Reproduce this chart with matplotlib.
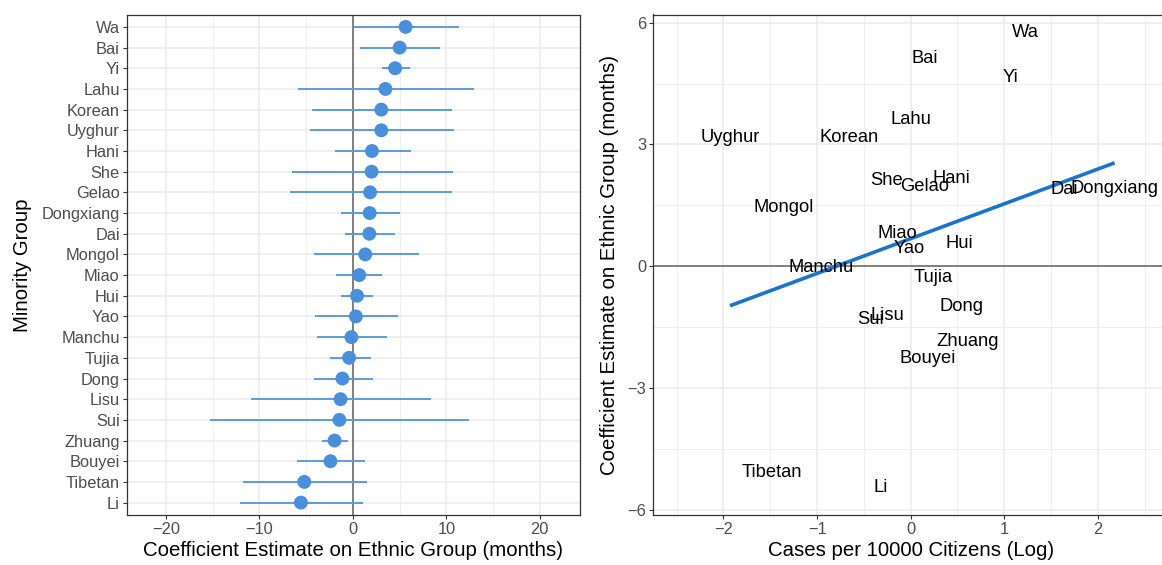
import numpy as np
import matplotlib
matplotlib.use("Agg")
import matplotlib.pyplot as plt
from matplotlib.ticker import MultipleLocator
from matplotlib.transforms import offset_copy

plt.rcParams['font.family'] = ['Liberation Sans', 'DejaVu Sans']

# data, ordered top to bottom as in the left panel
groups = ["Wa", "Bai", "Yi", "Lahu", "Korean", "Uyghur", "Hani", "She", "Gelao",
          "Dongxiang", "Dai", "Mongol", "Miao", "Hui", "Yao", "Manchu", "Tujia",
          "Dong", "Lisu", "Sui", "Zhuang", "Bouyei", "Tibetan", "Li"]
estimate = [5.64, 5.0, 4.52, 3.48, 3.04, 3.04, 2.04, 2.0, 1.84,
            1.8, 1.76, 1.32, 0.68, 0.44, 0.32, -0.16, -0.4,
            -1.12, -1.32, -1.44, -1.96, -2.4, -5.2, -5.56]
ci_low = [0.1, 0.76, 3.16, -5.92, -4.36, -4.6, -1.96, -6.56, -6.76,
          -1.28, -0.88, -4.2, -1.76, -1.28, -4.0, -3.8, -2.48,
          -4.2, -10.88, -15.24, -3.28, -5.96, -11.76, -12.04]
ci_high = [11.4, 9.36, 6.12, 13.0, 10.56, 10.8, 6.24, 10.72, 10.64,
           5.0, 4.52, 7.04, 3.08, 2.2, 4.8, 3.64, 1.92,
           2.12, 8.32, 12.44, -0.48, 1.32, 1.48, 1.04]
# log cases per 10000 citizens
log_cases = [1.23, 0.15, 1.07, 0.0, -0.66, -1.93, 0.43, -0.26, 0.15,
             2.18, 1.64, -1.36, -0.14, 0.52, -0.02, -0.96, 0.24,
             0.54, -0.25, -0.43, 0.61, 0.18, -1.48, -0.32]

W, H = 1162, 565
fig = plt.figure(figsize=(W / 100, H / 100), dpi=100)

def px_axes(x0, x1, y0, y1):
    return fig.add_axes([x0 / W, 1 - y1 / H, (x1 - x0) / W, (y1 - y0) / H])

grid_col = "#EBEBEB"
border_col = "#333333"
tick_col = "#4D4D4D"

def style(ax):
    for s in ax.spines.values():
        s.set_color(border_col)
        s.set_linewidth(0.9)
    ax.tick_params(axis="both", which="major", length=3, width=0.8, color=border_col,
                   labelcolor=tick_col, labelsize=11.8, pad=2)
    ax.tick_params(axis="both", which="minor", length=0)
    ax.grid(True, which="major", color=grid_col, linewidth=1.1)
    ax.grid(True, which="minor", color=grid_col, linewidth=0.55)
    ax.set_axisbelow(True)

# ---- left panel: coefficient plot
ax1 = px_axes(126.7, 580, 14.5, 515)
style(ax1)
ypos = np.arange(len(groups), 0, -1)
ax1.axvline(0, color="#7F7F7F", linewidth=1.4, zorder=1)
ax1.hlines(ypos, ci_low, ci_high, color="#5A9BE0", linewidth=1.4, zorder=2)
ax1.scatter(estimate, ypos, s=100, color="#4A8FDC", edgecolor="none", zorder=3)
ax1.set_xlim(-24.2, 24.3)
ax1.set_ylim(0.4, len(groups) + 0.6)
ax1.set_yticks(ypos)
ax1.set_yticklabels(groups)
ax1.xaxis.set_major_locator(MultipleLocator(10))
ax1.xaxis.set_minor_locator(MultipleLocator(5))
ax1.grid(False, axis="y", which="minor")
ax1.set_xlabel("Coefficient Estimate on Ethnic Group (months)", fontsize=14.7, labelpad=3)
ax1.set_ylabel("Minority Group", fontsize=14.7, labelpad=7)

# ---- right panel: estimates vs cases
ax2 = px_axes(653.3, 1168, 14.5, 515)
style(ax2)
ax2.axhline(0, color="#7F7F7F", linewidth=1.4, zorder=1)
txt_tr = offset_copy(ax2.transData, fig=fig, x=0, y=3.6, units="points")
for name, xv, yv in zip(groups, log_cases, estimate):
    ax2.text(xv, yv, name, ha="center", va="center", fontsize=13.2, color="black",
             zorder=3, transform=txt_tr)
slope, icpt = np.polyfit(log_cases, estimate, 1)
xs = np.array([min(log_cases), max(log_cases)])
ax2.plot(xs, icpt + slope * xs, color="#1874CD", linewidth=2.6, solid_capstyle="butt", zorder=2)
ax2.set_xlim(-2.75, 2.75)
rng = max(estimate) - min(estimate)
ax2.set_ylim(min(estimate) - 0.05 * rng, max(estimate) + 0.05 * rng)
ax2.xaxis.set_major_locator(MultipleLocator(1))
ax2.xaxis.set_minor_locator(MultipleLocator(0.5))
ax2.yaxis.set_major_locator(MultipleLocator(3))
ax2.yaxis.set_minor_locator(MultipleLocator(1.5))
ax2.set_xlabel("Cases per 10000 Citizens (Log)", fontsize=14.7, labelpad=3)
ax2.set_ylabel("Coefficient Estimate on Ethnic Group (months)", fontsize=14.7, labelpad=6)

fig.savefig("out.png", dpi=100)
